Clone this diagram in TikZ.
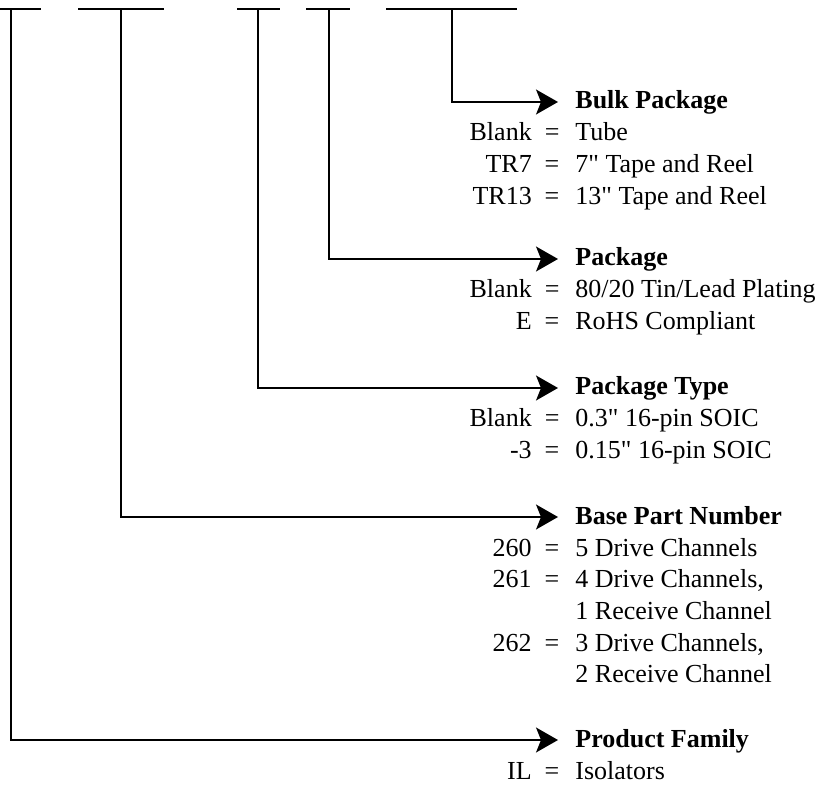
\documentclass[tikz,border=0pt]{standalone}
\usepackage{fontspec}
\setmainfont{Liberation Serif}[Ligatures=TeXOff]
\usepackage{tikz}
\usetikzlibrary{arrows.meta}
\newcommand{\opt}[2]{\makebox[0pt][r]{#1\hspace{6.5pt}=\hspace{8pt}}#2}
\newcommand{\optlist}[1]{\begin{tabular}[t]{@{}l@{}}#1\end{tabular}}
\tikzset{
  head/.style={inner sep=0pt, text height=7pt, text depth=0pt, anchor=base west,
               font=\fontsize{13}{15.85}\selectfont\bfseries},
  opts/.style={inner sep=0pt, anchor=base west,
               font=\fontsize{13}{15.85}\selectfont},
  field/.style={line width=0.7pt},
  flow/.style={-{Stealth[length=11pt, width=12.5pt, inset=2.5pt]}, line width=0.7pt,
               shorten >=8.5pt},
}

\begin{document}
\begin{tikzpicture}[x=0.5pt, y=-0.5pt]
  \useasboundingbox (0,0) rectangle (824,785);
  % part number fields
  \draw[field] (0,9) -- (41,9);
  \draw[field] (78,9) -- (164,9);
  \draw[field] (237,9) -- (280,9);
  \draw[field] (306,9) -- (350,9);
  \draw[field] (386,9) -- (517,9);
  \coordinate (tFamily) at (11,9);
  \coordinate (tBase) at (121,9);
  \coordinate (tType) at (258,9);
  \coordinate (tPkg) at (329,9);
  \coordinate (tBulk) at (452,9);

  \node[head] (bulk) at (575,109) {Bulk Package};
  \node[opts] (bulkopt) at (575,141) {\optlist{\opt{Blank}{Tube}\\ \opt{TR7}{7" Tape and Reel}\\ \opt{TR13}{13" Tape and Reel}}};
  \node[head] (pkg) at (575,266) {Package};
  \node[opts] (pkgopt) at (575,298) {\optlist{\opt{Blank}{80/20 Tin/Lead Plating}\\ \opt{E}{RoHS Compliant}}};
  \node[head] (type) at (575,395) {Package Type};
  \node[opts] (typeopt) at (575,427) {\optlist{\opt{Blank}{0.3" 16-pin SOIC}\\ \opt{-3}{0.15" 16-pin SOIC}}};
  \node[head] (base) at (575,524) {Base Part Number};
  \node[opts] (baseopt) at (575,556) {\optlist{\opt{260}{5 Drive Channels}\\ \opt{261}{4 Drive Channels,}\\ 1 Receive Channel\\ \opt{262}{3 Drive Channels,}\\ 2 Receive Channel}};
  \node[head] (family) at (575,747) {Product Family};
  \node[opts] (familyopt) at (575,779) {\optlist{\opt{IL}{Isolators}}};

  \draw[flow] (tBulk) |- (bulk);
  \draw[flow] (tPkg) |- (pkg);
  \draw[flow] (tType) |- (type);
  \draw[flow] (tBase) |- (base);
  \draw[flow] (tFamily) |- (family);
\end{tikzpicture}
\end{document}
